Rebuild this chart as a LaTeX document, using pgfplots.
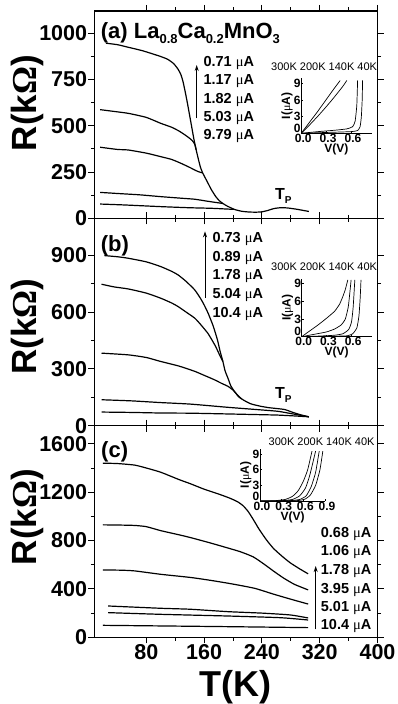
\documentclass[border=0pt]{standalone}
\usepackage{pgfplots}
\pgfplotsset{compat=1.18}
\usepackage{fontspec}
\setmainfont{Liberation Sans}
\newfontfamily\serfont{Liberation Serif}
\usetikzlibrary{arrows.meta}
\newcommand{\fs}[1]{\fontsize{#1}{#1}\selectfont}
\newcommand{\uA}{{\serfont\mdseries μ}A}
\pgfplotsset{
 mainax/.style={scale only axis, anchor=south west, width=283.2pt, xmin=8, xmax=400,
  ymin=0, xtick={80,160,240,320,400}, minor x tick num=1, minor y tick num=1,
  tick align=outside, major tick length=6pt, minor tick length=3.5pt,
  tick style={line width=0.9pt, black}, axis line style={line width=1.1pt},
  /pgf/number format/assume math mode=true, /pgf/number format/1000 sep={},
  scaled ticks=false, ticklabel style={font=\bfseries\fs{21.5}, inner sep=1pt},
  ylabel={R(k{\serfont Ω})}, ylabel style={font=\bfseries\fs{35}, anchor=center},
  cycle list={{black, solid}},
  every axis plot/.append style={black, line width=1.2pt, no marks, smooth, tension=0.35}},
 inset/.style={scale only axis, anchor=south west, axis x line*=bottom, axis y line*=left,
  xmin=0, ymin=0, xtick={0,0.3,0.6}, ytick={3,6,9}, extra y ticks={0},
  extra y tick style={yticklabel style={yshift=5pt}},
  tick align=inside,
  major tick length=2pt, tick style={black, line width=0.6pt}, axis line style={line width=0.8pt},
  /pgf/number format/assume math mode=true,
  xticklabel={\pgfmathprintnumber[fixed,fixed zerofill,precision=1]{\tick}},
  ticklabel style={font=\bfseries\fs{12}, inner sep=0.5pt},
  xticklabel style={xshift=2pt},
  xlabel={V(V)}, ylabel={I(\uA)}, label style={font=\bfseries\fs{12}, inner sep=0.5pt},
  cycle list={{black, solid}},
  every axis plot/.append style={black, line width=0.7pt, no marks, smooth, tension=0.3}}
}
\begin{document}
\begin{tikzpicture}
\useasboundingbox (0pt,0pt) rectangle (398pt,704pt);
% ---------------- panel (a)
\begin{axis}[mainax, at={(94.3pt,485.7pt)}, height=207.3pt, ymax=1120,
  ytick={0,250,500,750,1000}, xticklabels={},
  ylabel style={at={(axis description cs:-0.236,0.556)}}]
\addplot coordinates {(24,946) (40,938) (55,924) (75,905) (100,874) (110,858) (118,835) (124,805) (128,775) (131,735) (134,680) (137,620) (140,555) (143,490) (146,425) (149,370) (152,320) (155,275) (158,245) (162,215) (166,185) (170,155) (176,118) (181,95) (186,80) (192,66) (202,48) (212,38) (222,34) (232,33) (240,35) (248,42) (256,52) (265,57) (275,56) (288,49) (298,42) (305,37)};
\addplot coordinates {(16,587) (30,580) (55,567) (80,545) (100,513) (115,492) (125,472) (133,452) (140,432) (144,418) (147,400) (149,370)};
\addplot coordinates {(16,384) (40,372) (55,369) (80,352) (100,333) (115,318) (128,297) (140,275) (147,261) (152,252) (158,245)};
\addplot coordinates {(16,140) (40,134) (70,127) (100,117) (130,108) (147,103) (165,92) (179,84) (186,80)};
\addplot coordinates {(16,77) (50,72) (100,63) (140,57) (170,54) (202,48)};
\end{axis}
% ---------------- panel (b)
\begin{axis}[mainax, at={(94.3pt,278.3pt)}, height=207.4pt, ymax=1095,
  ytick={0,300,600,900}, xticklabels={},
  ylabel style={at={(axis description cs:-0.236,0.477)}}]
\addplot coordinates {(22,898) (40,892) (55,884) (80,865) (100,840) (115,815) (124,796) (135,762) (147,717) (155,672) (160,638) (166,590) (172,532) (176,485) (179,445) (182,395) (186,339) (189,290) (193,251) (197,210) (202,181) (208,152) (216,132) (225,115) (239,102) (250,95) (262,90) (272,85) (283,70) (295,56) (305,47)};
\addplot coordinates {(18,747) (35,733) (55,722) (80,700) (100,673) (115,648) (124,629) (135,600) (147,568) (155,535) (165,489) (170,458) (176,418) (180,385) (186,339)};
\addplot coordinates {(18,383) (55,374) (80,360) (100,339) (125,315) (147,287) (160,266) (174,243) (185,222) (193,208) (200,188) (206,163) (212,141)};
\addplot coordinates {(18,137) (60,131) (100,122) (141,114) (193,97) (230,86) (262,76) (283,62) (305,47)};
\addplot coordinates {(18,72) (60,70) (100,67) (141,66) (193,62) (240,58) (262,56) (283,52) (305,47)};
\end{axis}
% ---------------- panel (c)
\begin{axis}[mainax, at={(94.3pt,66.7pt)}, height=211.6pt, ymax=1750,
  ytick={0,400,800,1200,1600},
  ylabel style={at={(axis description cs:-0.236,0.568)}},
  xlabel={T(K)}, xlabel style={font=\bfseries\fs{36}, at={(axis description cs:0.5,-0.281)}, anchor=base}]
\addplot coordinates {(20,1440) (40,1437) (64,1424) (80,1400) (100,1365) (125,1305) (141,1270) (160,1225) (180,1185) (195,1152) (206,1122) (214,1088) (221,1040) (228,975) (236,895) (246,808) (256,735) (268,670) (279,617) (292,567) (304,525)};
\addplot coordinates {(20,930) (45,928) (64,925) (80,915) (100,882) (125,848) (141,825) (170,778) (192,740) (210,708) (228,665) (243,605) (256,548) (270,490) (285,438) (304,392)};
\addplot coordinates {(20,557) (45,555) (64,549) (100,521) (141,495) (170,470) (200,440) (230,405) (256,357) (280,315) (304,275)};
\addplot coordinates {(27,259) (100,240) (141,232) (193,212) (240,200) (279,185) (304,160)};
\addplot coordinates {(27,204) (100,190) (193,176) (266,162) (304,143)};
\addplot coordinates {(20,99) (100,94) (193,88) (304,80)};
\end{axis}
% ---------------- insets
\begin{axis}[inset, at={(301.2pt,570.7pt)}, width=70.5pt, height=55pt, xmax=0.85, ymax=10]
\addplot coordinates {(0,0) (0.1,2.0) (0.2,4.0) (0.3,6.1) (0.4,8.2) (0.47,9.6)};
\addplot coordinates {(0,0) (0.1,1.5) (0.2,3.1) (0.3,4.8) (0.4,6.6) (0.5,8.5) (0.55,9.6)};
\addplot coordinates {(0,0) (0.2,0.3) (0.4,0.55) (0.55,0.8) (0.62,1.2) (0.65,2.2) (0.67,5) (0.68,9.6)};
\addplot coordinates {(0,0) (0.3,0.15) (0.6,0.3) (0.68,0.5) (0.71,1.2) (0.725,3) (0.735,6) (0.74,9.6)};
\end{axis}
\begin{axis}[inset, at={(301.7pt,367.3pt)}, width=70pt, height=58pt, xmax=0.85, ymax=9.8]
\addplot coordinates {(0,0) (0.1,1.0) (0.2,2.0) (0.3,3.1) (0.4,4.3) (0.46,5.5) (0.5,6.8) (0.53,8) (0.56,9.6)};
\addplot coordinates {(0,0) (0.15,0.4) (0.3,0.8) (0.4,1.3) (0.48,2.0) (0.53,3.0) (0.565,5) (0.585,7.5) (0.6,9.6)};
\addplot coordinates {(0,0) (0.2,0.1) (0.4,0.25) (0.5,0.5) (0.57,1.2) (0.605,2.5) (0.625,5) (0.645,9.6)};
\addplot coordinates {(0,0) (0.3,0.05) (0.55,0.15) (0.62,0.5) (0.67,1.5) (0.695,3.5) (0.71,6.5) (0.72,9.6)};
\end{axis}
\begin{axis}[inset, at={(260pt,203pt)}, width=65pt, height=52pt, xmax=0.9, ymax=10,
  xtick={0,0.3,0.6,0.9}]
\addplot coordinates {(0,0) (0.2,0.05) (0.35,0.3) (0.45,0.9) (0.53,2) (0.6,3.8) (0.66,6) (0.72,9.6)};
\addplot coordinates {(0,0) (0.3,0.05) (0.45,0.3) (0.55,1) (0.63,2.5) (0.69,5) (0.77,9.6)};
\addplot coordinates {(0,0) (0.4,0.05) (0.55,0.3) (0.64,1) (0.71,2.8) (0.77,5.5) (0.82,9.6)};
\addplot coordinates {(0,0) (0.5,0.05) (0.63,0.4) (0.7,1.2) (0.77,3) (0.83,6) (0.87,9.6)};
\end{axis}
% ---------------- annotations
\begin{scope}[every node/.style={anchor=base west, inner sep=0pt}]
\node[font=\bfseries\fs{22}] at (100.7pt,665.7pt) {(a) La\raisebox{-5pt}{\fs{13}0.8}Ca\raisebox{-5pt}{\fs{13}0.2}MnO\raisebox{-5pt}{\fs{13}3}};
\node[font=\bfseries\fs{22}] at (100.7pt,452.7pt) {(b)};
\node[font=\bfseries\fs{22}] at (101pt,246.3pt) {(c)};
\node[font=\fs{11}] at (271pt,633.3pt) {300K 200K 140K 40K};
\node[font=\fs{11}] at (271pt,433.3pt) {300K 200K 140K 40K};
\node[font=\fs{11}] at (268.5pt,258pt) {300K 200K 140K 40K};
\node[font=\bfseries\fs{16}] at (275pt,504pt) {T\raisebox{-4pt}{\fs{10}P}};
\node[font=\bfseries\fs{16}] at (275pt,305.7pt) {T\raisebox{-4pt}{\fs{10}P}};
\begin{scope}[every node/.append style={font=\bfseries\fs{14.5}}]
\node at (203.3pt,637.3pt) {0.71 \uA};
\node at (203.3pt,619pt) {1.17 \uA};
\node at (203.3pt,600.7pt) {1.82 \uA};
\node at (203.3pt,582.3pt) {5.03 \uA};
\node at (203.3pt,564pt) {9.79 \uA};
\node at (212.3pt,461pt) {0.73 \uA};
\node at (212.3pt,442.5pt) {0.89 \uA};
\node at (212.3pt,424pt) {1.78 \uA};
\node at (212.3pt,405pt) {5.04 \uA};
\node at (212.3pt,386pt) {10.4 \uA};
\node at (320.7pt,166.3pt) {0.68 \uA};
\node at (320.7pt,148pt) {1.06 \uA};
\node at (320.7pt,129pt) {1.78 \uA};
\node at (320.7pt,110.7pt) {3.95 \uA};
\node at (320.7pt,92pt) {5.01 \uA};
\node at (320.7pt,74pt) {10.4 \uA};
\end{scope}
\end{scope}
\draw[-{Stealth[length=6pt,width=4pt]}, line width=1pt] (196.7pt,585.7pt) -- (196.7pt,639pt);
\draw[-{Stealth[length=6pt,width=4pt]}, line width=1pt] (205pt,406pt) -- (205pt,472.7pt);
\draw[-{Stealth[length=6pt,width=4pt]}, line width=1pt] (315.7pt,74.7pt) -- (315.7pt,138pt);
\end{tikzpicture}
\end{document}
